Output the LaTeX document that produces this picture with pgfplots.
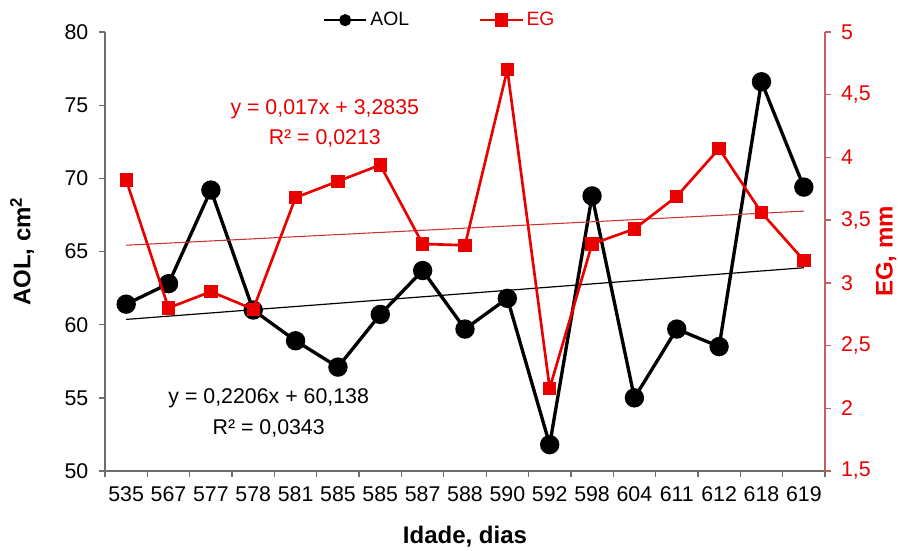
\documentclass[border=0pt]{standalone}
\usepackage{fontspec}
\setmainfont{Liberation Sans}
\usepackage{pgfplots}
\pgfplotsset{compat=1.18}
\definecolor{egred}{RGB}{235,0,0}
\definecolor{trendred}{RGB}{205,50,50}
\definecolor{axred}{RGB}{195,95,95}
\definecolor{axgray}{RGB}{110,110,110}
\begin{document}
\begin{tikzpicture}
\pgfplotsset{
 common/.style={
  scale only axis, width=540pt, height=329.25pt,
  at={(0pt,0pt)}, anchor=south west,
  xmin=-0.5, xmax=16.5,
  /pgf/number format/assume math mode=true,
  tick label style={font=\fontsize{16}{18}\selectfont},
  tick align=outside,
  clip=false,
  legend image code/.code={\draw[mark repeat=2,mark phase=2] plot coordinates {(0pt,0pt) (16pt,0pt) (32pt,0pt)};},
 }
}
\begin{axis}[common,
  axis x line*=bottom, axis y line*=left,
  axis line style={-, draw=axgray, line width=1.1pt},
  ymin=50, ymax=80, ytick={50,55,...,80},
  xtick={0,...,16},
  xticklabels={535,567,577,578,581,585,585,587,588,590,592,598,604,611,612,618,619},
  xticklabel style={yshift=-4pt},
  yticklabel style={xshift=-4.5pt},
  major x tick style={draw=none},
  minor xtick={-0.5,0.5,...,16.5},
  tick style={draw=axgray, line width=1pt},
  major tick length=4.5pt, minor tick length=4.5pt,
  xlabel={\bfseries Idade, dias},
  xlabel style={font=\fontsize{18}{20}\selectfont\bfseries, yshift=-11pt},
  ylabel={AOL, cm\textsuperscript{2}},
  ylabel style={font=\fontsize{18}{20}\selectfont\bfseries, yshift=16pt},
]
\addplot[black, line width=0.9pt, forget plot] coordinates {(0,60.36) (16,63.89)};
\addplot[black, line width=2.5pt, mark=*, mark size=6pt] coordinates {
(0,61.4) (1,62.8) (2,69.2) (3,61.0) (4,58.9) (5,57.1) (6,60.7) (7,63.7) (8,59.7)
(9,61.8) (10,51.8) (11,68.8) (12,55.0) (13,59.7) (14,58.5) (15,76.6) (16,69.4)};
\node[align=center, text=egred, font=\fontsize{16}{23}\selectfont] at (axis cs:4.69,73.75) {y = 0,017x + 3,2835\\R² = 0,0213};
\node[align=center, text=black, font=\fontsize{16}{23}\selectfont] at (axis cs:3.365,53.96) {y = 0,2206x + 60,138\\R² = 0,0343};
\end{axis}
\begin{axis}[common,
  axis x line=none, axis y line*=right,
  axis line style={-, draw=axred, line width=1.1pt},
  ymin=1.5, ymax=5, ytick={1.5,2,...,5},
  yticklabel style={text=egred, xshift=4pt, /pgf/number format/.cd, use comma, fixed},
  tick style={draw=axred, line width=1pt},
  major tick length=4.5pt,
  ylabel={EG, mm},
  ylabel style={font=\fontsize{18}{20}\selectfont\bfseries, text=egred, yshift=3pt},
  legend style={at={(axis description cs:0.465,1.027)}, anchor=center, draw=none, fill=none,
    legend columns=2, font=\fontsize{14.5}{16}\selectfont,
    /tikz/every even column/.append style={column sep=50pt}},
]
\addlegendimage{black, line width=2pt, mark=*, mark size=3.5pt}
\addlegendentry{AOL}
\addplot[trendred, line width=0.8pt, forget plot] coordinates {(0,3.300) (16,3.572)};
\addplot[egred, line width=2pt, mark=square*, mark size=4pt] coordinates {
(0,3.82) (1,2.80) (2,2.93) (3,2.79) (4,3.68) (5,3.81) (6,3.94) (7,3.31) (8,3.30)
(9,4.70) (10,2.16) (11,3.31) (12,3.43) (13,3.69) (14,4.07) (15,3.56) (16,3.18)};
\addlegendentry{\textcolor{egred}{EG}}
\end{axis}
\pgfresetboundingbox
\path (-78.75pt,-59.25pt) rectangle (595.5pt,353.25pt);
\end{tikzpicture}
\end{document}
